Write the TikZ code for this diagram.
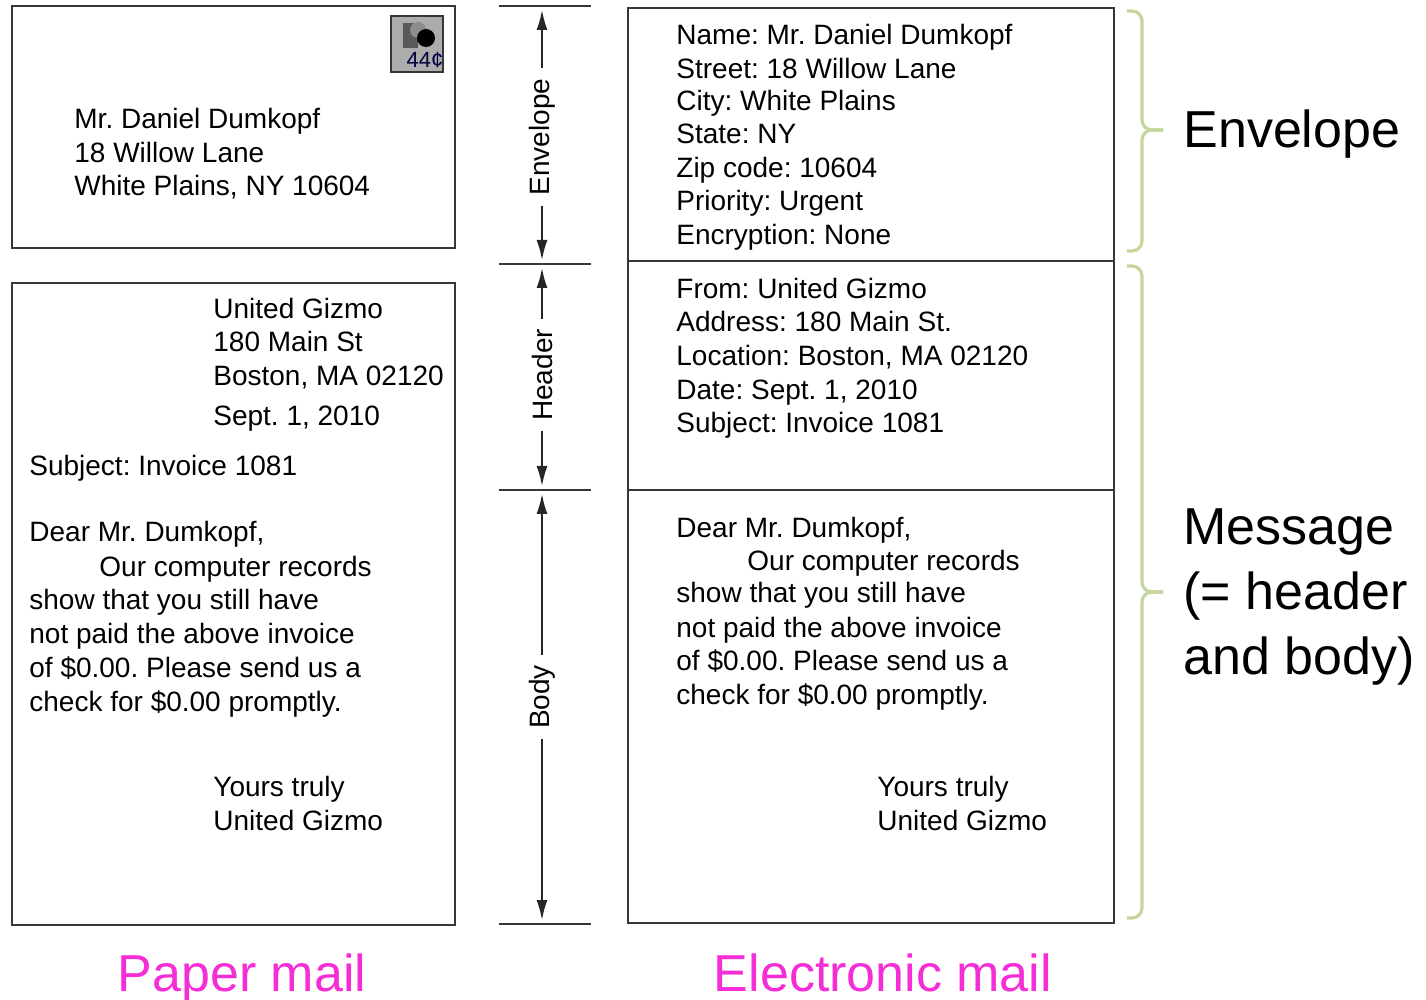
\documentclass[tikz,border=0pt]{standalone}
\usepackage{fontspec}
\setmainfont{Liberation Sans}
\usetikzlibrary{arrows.meta}
\frenchspacing
\definecolor{mailpink}{RGB}{245,45,215}
\definecolor{bracegreen}{RGB}{195,214,155}
\definecolor{boxgray}{RGB}{55,55,55}
\definecolor{stampgray}{RGB}{172,172,172}

\begin{document}
\begin{tikzpicture}[
            x=0.5pt, y=-0.5pt,
            box/.style={draw=boxgray, line width=0.8pt},
            txt/.style={anchor=base west, inner sep=0pt, font=\fontsize{14}{16}\selectfont},
            side/.style={rotate=90, inner sep=5pt, font=\fontsize{14}{16}\selectfont},
            big/.style={anchor=base west, inner sep=0pt, font=\fontsize{26}{32}\selectfont},
            pinklbl/.style={anchor=base, inner sep=0pt, text=mailpink, font=\fontsize{26}{32}\selectfont},
            bracket/.style={draw=bracegreen, line width=1.6pt, rounded corners=5pt},
            dim/.style={->, line width=0.9pt, draw=black!85, shorten >=2pt},
            >={Latex[length=10pt,width=5.5pt]},
          ]
          \useasboundingbox (0,0) rectangle (1426,1000);
          % paper envelope
          \draw[box] (12,6) rectangle (455,248);
          \draw[box, fill=stampgray] (391,16) rectangle (443,72);
          \fill[black!65] (403,23) rectangle (418,48);
          \fill[black!45] (418,30) circle (8);
          \fill[black] (426,38) circle (9);
          \node[inner sep=0pt, font=\fontsize{11}{12}\selectfont, text=blue!25!black] (stamp) at (425,60) {44¢};
          \node[txt] (pname) at (74,129) {Mr. Daniel Dumkopf};
          \node[txt] (pstreet) at (74,163) {18 Willow Lane};
          \node[txt] (pcity) at (74,196) {White Plains, NY 10604};
          % paper letter
          \draw[box] (12,283) rectangle (455,925);
          \node[txt] (pfrom) at (213,319) {United Gizmo};
          \node[txt] (paddr) at (213,352) {180 Main St};
          \node[txt] (ploc) at (213,386) {Boston, MA 02120};
          \node[txt] (pdate) at (213,426) {Sept. 1, 2010};
          \node[txt] (psubj) at (29,475) {Subject: Invoice 1081};
          \node[txt] (pdear) at (29,541) {Dear Mr. Dumkopf,};
          \node[txt] (pb1) at (99,576) {Our computer records};
          \node[txt] (pb2) at (29,610) {show that you still have};
          \node[txt] (pb3) at (29,643) {not paid the above invoice};
          \node[txt] (pb4) at (29,677) {of \$0.00. Please send us a};
          \node[txt] (pb5) at (29,711) {check for \$0.00 promptly.};
          \node[txt] (pyours) at (213,796) {Yours truly};
          \node[txt] (psign) at (213,830) {United Gizmo};
          % dividers in the middle
          \draw[box] (499,6) -- (591,6);
          \draw[box] (499,264) -- (591,264);
          \draw[box] (499,490) -- (591,490);
          \draw[box] (499,924) -- (591,924);
          \coordinate (l0) at (542,6);
          \coordinate (l1) at (542,264);
          \coordinate (l2) at (542,490);
          \coordinate (l3) at (542,924);
          \node[side] (envlbl) at (542,137) {Envelope};
          \node[side] (hdrlbl) at (542,375) {Header};
          \node[side] (bodylbl) at (542,697) {Body};
          \draw[dim] (envlbl) -- (l0);
          \draw[dim] (envlbl) -- (l1);
          \draw[dim] (hdrlbl) -- (l1);
          \draw[dim] (hdrlbl) -- (l2);
          \draw[dim] (bodylbl) -- (l2);
          \draw[dim] (bodylbl) -- (l3);
          % electronic mail
          \draw[box] (628,8) rectangle (1114,923);
          \draw[box] (628,261) -- (1114,261);
          \draw[box] (628,490) -- (1114,490);
          \node[txt] (ename) at (676,45) {Name: Mr. Daniel Dumkopf};
          \node[txt] (estreet) at (676,79) {Street: 18 Willow Lane};
          \node[txt] (ecity) at (676,111) {City: White Plains};
          \node[txt] (estate) at (676,144) {State: NY};
          \node[txt] (ezip) at (676,178) {Zip code: 10604};
          \node[txt] (eprio) at (676,211) {Priority: Urgent};
          \node[txt] (ecrypt) at (676,245) {Encryption: None};
          \node[txt] (efrom) at (676,299) {From: United Gizmo};
          \node[txt] (eaddr) at (676,332) {Address: 180 Main St.};
          \node[txt] (eloc) at (676,366) {Location: Boston, MA 02120};
          \node[txt] (edate) at (676,400) {Date: Sept. 1, 2010};
          \node[txt] (esubj) at (676,433) {Subject: Invoice 1081};
          \node[txt] (edear) at (676,538) {Dear Mr. Dumkopf,};
          \node[txt] (eb1) at (747,570) {Our computer records};
          \node[txt] (eb2) at (676,603) {show that you still have};
          \node[txt] (eb3) at (676,637) {not paid the above invoice};
          \node[txt] (eb4) at (676,670) {of \$0.00. Please send us a};
          \node[txt] (eb5) at (676,704) {check for \$0.00 promptly.};
          \node[txt] (eyours) at (877,796) {Yours truly};
          \node[txt] (esign) at (877,830) {United Gizmo};
          % braces
          \draw[bracket] (1127,11) -- (1142,11) -- (1142,130) -- (1163,130);
          \draw[bracket] (1127,251) -- (1142,251) -- (1142,130) -- (1163,130);
          \draw[bracket] (1127,266) -- (1142,266) -- (1142,592) -- (1163,592);
          \draw[bracket] (1127,918) -- (1142,918) -- (1142,592) -- (1163,592);
          \node[big] (envtxt) at (1183,148) {Envelope};
          \node[big] (msg1) at (1183,545) {Message};
          \node[big] (msg2) at (1183,610) {(= header};
          \node[big] (msg3) at (1183,674) {and body)};
          % captions
          \node[pinklbl] (paperlbl) at (242,991) {Paper mail};
          \node[pinklbl] (emaillbl) at (883,991) {Electronic mail};
          \end{tikzpicture}
\end{document}
